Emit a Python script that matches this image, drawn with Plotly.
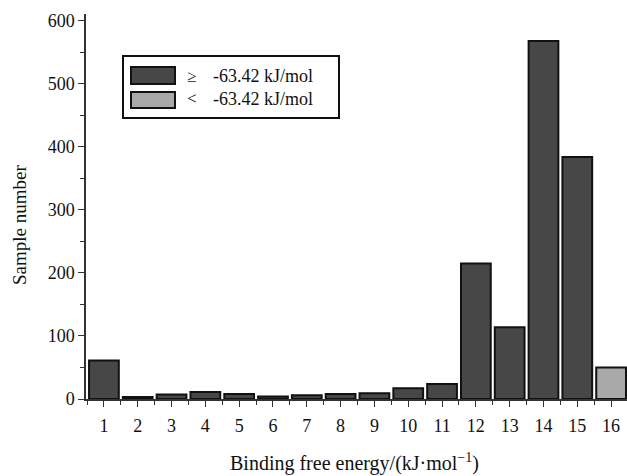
import plotly.graph_objects as go

categories = list(range(1, 17))
high_values = [61, 3, 7, 11, 8, 4, 6, 8, 9, 17, 24, 215, 114, 568, 384, None]
low_values = [None] * 15 + [50]
tick_vals = list(range(1, 17))
y_ticks = [0, 100, 200, 300, 400, 500, 600]
legend_symbols = ["≥", "<"]
legend_labels = ["-63.42 kJ/mol", "-63.42 kJ/mol"]
x_title = "Binding free energy/(kJ·mol<sup>−1</sup>)"
y_title = "Sample number"

dark = "#474747"
light = "#a9a9a9"
font = "Liberation Serif"

fig = go.Figure()
fig.add_trace(go.Bar(x=categories, y=high_values, width=0.88,
                     marker=dict(color=dark, line=dict(color="#111", width=2)),
                     showlegend=False))
fig.add_trace(go.Bar(x=categories, y=low_values, width=0.88,
                     marker=dict(color=light, line=dict(color="#111", width=2)),
                     showlegend=False))

W, H = 627, 476
ml, mr, mt, mb = 86, 0, 14, 77
pw, ph = W - ml - mr, H - mt - mb

def px(x):
    return (x - ml) / pw

def py(y):
    return (H - mb - y) / ph

shapes = []
shapes.append(dict(type="rect", xref="paper", yref="paper",
                   x0=px(123), x1=px(339), y0=py(118), y1=py(56),
                   line=dict(color="#111", width=2), fillcolor="white"))
shapes.append(dict(type="rect", xref="paper", yref="paper",
                   x0=px(131), x1=px(175), y0=py(84), y1=py(67),
                   line=dict(color="#111", width=2), fillcolor=dark))
shapes.append(dict(type="rect", xref="paper", yref="paper",
                   x0=px(131), x1=px(175), y0=py(108), y1=py(92),
                   line=dict(color="#111", width=2), fillcolor=light))
annotations = []
for i, (sym, lab) in enumerate(zip(legend_symbols, legend_labels)):
    yc = [76, 99][i]
    annotations.append(dict(xref="paper", yref="paper", x=px(185), y=py(yc), text=sym,
                            showarrow=False, xanchor="left", yanchor="middle",
                            font=dict(family=font, size=17, color="#111")))
    annotations.append(dict(xref="paper", yref="paper", x=px(211), y=py(yc), text=lab,
                            showarrow=False, xanchor="left", yanchor="middle",
                            font=dict(family=font, size=18, color="#111")))
annotations += [
    dict(xref="paper", yref="paper", x=px(354), y=py(462), text=x_title,
         showarrow=False, xanchor="center", yanchor="middle",
         font=dict(family=font, size=20, color="#111")),
    dict(xref="paper", yref="paper", x=px(19), y=py(225), text=y_title,
         showarrow=False, xanchor="center", yanchor="middle", textangle=-90,
         font=dict(family=font, size=19, color="#111")),
]

fig.update_layout(
    width=W, height=H,
    margin=dict(l=ml, r=mr, t=mt, b=mb),
    plot_bgcolor="white", paper_bgcolor="white",
    barmode="overlay",
    font=dict(family=font, size=18, color="#111"),
    shapes=shapes, annotations=annotations,
    xaxis=dict(range=[0.47, 16.47], tickvals=tick_vals, ticks="outside",
               ticklen=6, tickwidth=1, tickcolor="#333", automargin=False,
               ticklabelstandoff=4,
               showline=True, linecolor="#333", linewidth=1.5,
               showgrid=False, zeroline=False,
               minor=dict(dtick=0.5, tick0=0.5, ticks="outside", ticklen=4, tickcolor="#333")),
    yaxis=dict(range=[0, 611], tickvals=y_ticks, automargin=False,
               ticks="outside", ticklen=6, tickwidth=1, tickcolor="#333",
               showline=True, linecolor="#333", linewidth=1.5,
               showgrid=False, zeroline=False,
               minor=dict(dtick=50, ticks="outside", ticklen=4, tickcolor="#333")),
)

fig.write_html("out.html", config={"displayModeBar": False},
               post_script="document.body.style.margin='0';document.body.style.overflow='hidden';")
